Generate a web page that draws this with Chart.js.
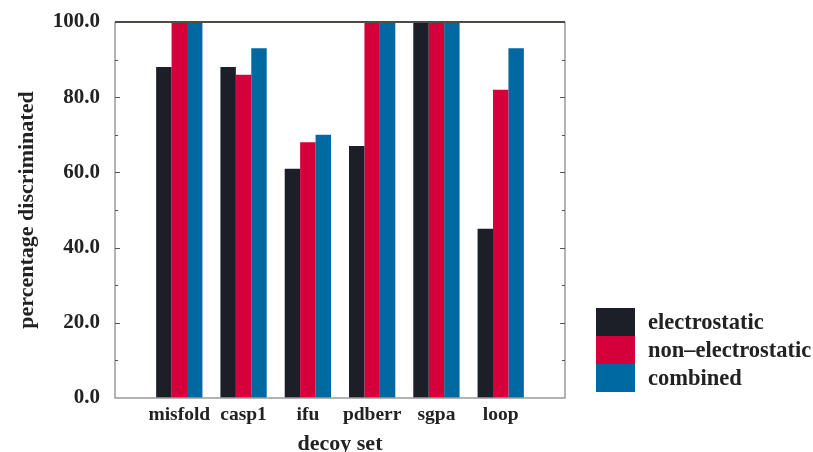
<!DOCTYPE html>
<html>
<head>
<meta charset="utf-8">
<script src="https://cdn.jsdelivr.net/npm/chart.js@4"></script>
<style>
  html, body { margin: 0; padding: 0; background: #fff; }
  #wrap { position: relative; width: 813px; height: 452px; }
</style>
</head>
<body>
<div id="wrap"><canvas id="chart" width="813" height="452"></canvas></div>
<script>
// empty slots at both ends give the spacing of the original axis
const categories = ['', 'misfold', 'casp1', 'ifu', 'pdberr', 'sgpa', 'loop', ''];
const electrostatic = [null, 88, 88, 61, 67, 100, 45, null];
const nonElectrostatic = [null, 100, 86, 68, 100, 100, 82, null];
const combined = [null, 100, 93, 70, 100, 100, 93, null];
const seriesNames = ['electrostatic', 'non\u2013electrostatic', 'combined'];
const seriesColors = ['#1d1f28', '#d5003b', '#0069a1'];

const serif = '"Liberation Serif", "DejaVu Serif", serif';

// frame, inward ticks and the stacked legend
const framePlugin = {
  id: 'frame',
  afterDraw(chart) {
    const ctx = chart.ctx;
    const a = chart.chartArea;
    const y = chart.scales.y;
    ctx.save();
    ctx.lineWidth = 1.5;
    ctx.strokeStyle = '#9a9a9a';
    ctx.beginPath();
    ctx.moveTo(a.left, a.top);
    ctx.lineTo(a.left, a.bottom);
    ctx.lineTo(a.right, a.bottom);
    ctx.lineTo(a.right, a.top);
    ctx.stroke();
    ctx.strokeStyle = '#4f4c44';
    ctx.lineWidth = 2;
    ctx.beginPath();
    ctx.moveTo(a.left, a.top);
    ctx.lineTo(a.right, a.top);
    ctx.stroke();

    ctx.strokeStyle = '#555';
    ctx.lineWidth = 1.2;
    for (let v = 10; v < 100; v += 10) {
      const py = Math.round(y.getPixelForValue(v)) + 0.5;
      const len = v % 20 === 0 ? 5 : 3;
      ctx.beginPath();
      ctx.moveTo(a.left, py);
      ctx.lineTo(a.left + len, py);
      ctx.moveTo(a.right, py);
      ctx.lineTo(a.right - len, py);
      ctx.stroke();
    }

    // legend
    const boxX = 596, boxW = 39, boxH = 28;
    let boxY = 308;
    ctx.font = 'bold 22.5px ' + serif;
    ctx.textBaseline = 'middle';
    ctx.textAlign = 'left';
    chart.data.datasets.forEach(ds => {
      ctx.fillStyle = ds.backgroundColor;
      ctx.fillRect(boxX, boxY, boxW, boxH);
      ctx.fillStyle = '#222';
      ctx.fillText(ds.label, boxX + boxW + 13, boxY + boxH / 2 + 1);
      boxY += boxH;
    });
    ctx.restore();
  }
};

const datasets = [electrostatic, nonElectrostatic, combined].map((vals, i) => ({
  label: seriesNames[i],
  data: vals,
  backgroundColor: seriesColors[i],
  borderWidth: 0,
  categoryPercentage: 0.72,
  barPercentage: 1.0
}));

new Chart(document.getElementById('chart'), {
  type: 'bar',
  data: { labels: categories, datasets: datasets },
  options: {
    responsive: false,
    animation: false,
    layout: { autoPadding: false, padding: { top: 22, right: 248, bottom: 0, left: 0 } },
    plugins: {
      legend: { display: false },
      tooltip: { enabled: false }
    },
    scales: {
      x: {
        offset: false,
        grid: { display: false, drawTicks: false },
        border: { display: false },
        ticks: {
          padding: 5,
          color: '#222',
          autoSkip: false,
          maxRotation: 0,
          font: { family: serif, size: 19.5, weight: 'bold' }
        },
        title: {
          display: true,
          text: 'decoy set',
          color: '#222',
          padding: { top: 0, bottom: -6 },
          font: { family: serif, size: 22, weight: 'bold' }
        },
        afterFit(scale) { scale.height = 54; }
      },
      y: {
        min: 0,
        max: 100,
        grid: { display: false, drawTicks: false },
        border: { display: false },
        ticks: {
          stepSize: 20,
          padding: 15,
          color: '#222',
          font: { family: serif, size: 21, weight: 'bold' },
          callback: v => v.toFixed(1)
        },
        title: {
          display: true,
          text: 'percentage discriminated',
          color: '#222',
          padding: { top: 14, bottom: 0 },
          font: { family: serif, size: 22, weight: 'bold' }
        },
        afterFit(scale) {
          scale.width = 115;
          // keep the label overflow from pushing the plot down
          scale.paddingTop = 0;
          scale.paddingBottom = 0;
        }
      }
    }
  },
  plugins: [framePlugin]
});
</script>
</body>
</html>
